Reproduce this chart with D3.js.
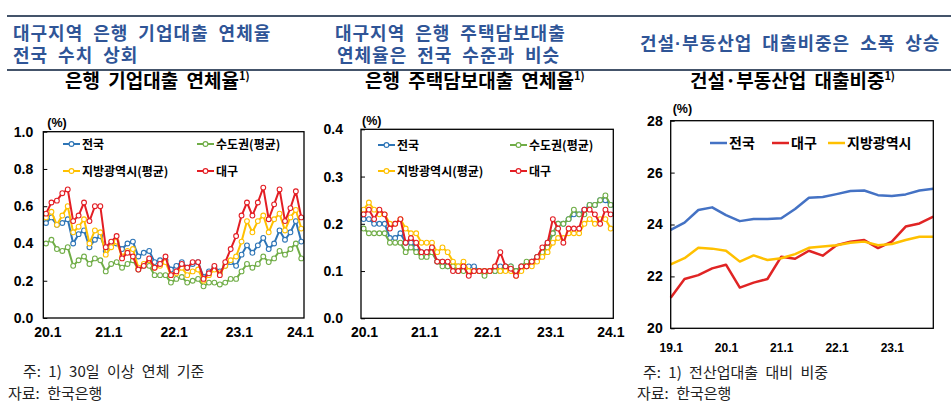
<!DOCTYPE html>
<html>
<head>
<meta charset="utf-8">
<script src="https://cdn.jsdelivr.net/npm/d3@7"></script>
<style>
body { margin: 0; background: #fff; }
</style>
</head>
<body>
<svg id="chart" width="951" height="414"></svg>
<script>
// 은행 기업대출 연체율 (월별, 20.1 ~ 23.12)
var corpLabels = ["20.1", "21.1", "22.1", "23.1", "24.1"];
var corpNation = [0.51, 0.54, 0.50, 0.51, 0.53, 0.40, 0.45, 0.47, 0.38, 0.42, 0.44, 0.36,
                  0.39, 0.40, 0.37, 0.40, 0.41, 0.33, 0.35, 0.36, 0.30, 0.31, 0.31, 0.26,
                  0.28, 0.30, 0.27, 0.29, 0.30, 0.22, 0.25, 0.27, 0.25, 0.28, 0.30, 0.28,
                  0.34, 0.39, 0.35, 0.39, 0.43, 0.37, 0.40, 0.47, 0.42, 0.46, 0.52, 0.41];
var corpCapital = [0.40, 0.42, 0.37, 0.36, 0.38, 0.28, 0.31, 0.33, 0.29, 0.32, 0.31, 0.25,
                   0.29, 0.30, 0.27, 0.29, 0.31, 0.26, 0.28, 0.28, 0.23, 0.23, 0.23, 0.19,
                   0.21, 0.22, 0.19, 0.20, 0.21, 0.17, 0.19, 0.19, 0.18, 0.19, 0.21, 0.21,
                   0.25, 0.29, 0.27, 0.29, 0.33, 0.30, 0.32, 0.36, 0.34, 0.37, 0.40, 0.32];
var corpMetro = [0.54, 0.57, 0.50, 0.55, 0.60, 0.46, 0.49, 0.53, 0.40, 0.47, 0.46, 0.34,
                 0.38, 0.41, 0.33, 0.36, 0.37, 0.27, 0.29, 0.31, 0.27, 0.28, 0.30, 0.23,
                 0.24, 0.27, 0.23, 0.25, 0.26, 0.20, 0.23, 0.26, 0.24, 0.28, 0.31, 0.33,
                 0.41, 0.52, 0.46, 0.52, 0.55, 0.46, 0.53, 0.56, 0.47, 0.54, 0.58, 0.48];
var corpDaegu = [0.56, 0.62, 0.63, 0.67, 0.69, 0.52, 0.55, 0.62, 0.52, 0.60, 0.60, 0.38,
                 0.41, 0.44, 0.32, 0.35, 0.33, 0.26, 0.28, 0.32, 0.27, 0.29, 0.33, 0.23,
                 0.25, 0.29, 0.27, 0.30, 0.30, 0.21, 0.24, 0.28, 0.23, 0.30, 0.37, 0.44,
                 0.55, 0.62, 0.55, 0.62, 0.70, 0.53, 0.61, 0.69, 0.52, 0.59, 0.68, 0.54];

// 은행 주택담보대출 연체율 (월별)
var mortLabels = ["20.1", "21.1", "22.1", "23.1", "24.1"];
var mortNation = [0.21, 0.21, 0.20, 0.20, 0.20, 0.17, 0.17, 0.18, 0.16, 0.16, 0.15, 0.14,
                  0.14, 0.14, 0.12, 0.12, 0.11, 0.11, 0.11, 0.11, 0.11, 0.11, 0.10, 0.10,
                  0.10, 0.10, 0.11, 0.11, 0.11, 0.10, 0.11, 0.11, 0.12, 0.13, 0.14, 0.16,
                  0.18, 0.20, 0.20, 0.21, 0.22, 0.22, 0.23, 0.24, 0.24, 0.25, 0.25, 0.24];
var mortCapital = [0.19, 0.18, 0.18, 0.18, 0.18, 0.16, 0.16, 0.16, 0.14, 0.15, 0.14, 0.13,
                   0.13, 0.14, 0.12, 0.11, 0.11, 0.11, 0.10, 0.10, 0.10, 0.10, 0.10, 0.09,
                   0.10, 0.10, 0.10, 0.11, 0.11, 0.10, 0.11, 0.12, 0.12, 0.13, 0.14, 0.15,
                   0.18, 0.20, 0.20, 0.21, 0.23, 0.22, 0.22, 0.24, 0.24, 0.25, 0.26, 0.24];
var mortMetro = [0.23, 0.245, 0.23, 0.22, 0.22, 0.20, 0.20, 0.21, 0.19, 0.18, 0.18, 0.16,
                 0.16, 0.16, 0.14, 0.15, 0.14, 0.12, 0.11, 0.12, 0.10, 0.10, 0.10, 0.10,
                 0.10, 0.11, 0.10, 0.10, 0.10, 0.09, 0.10, 0.11, 0.11, 0.12, 0.13, 0.14,
                 0.16, 0.17, 0.17, 0.18, 0.18, 0.18, 0.20, 0.21, 0.20, 0.21, 0.21, 0.19];
var mortDaegu = [0.22, 0.23, 0.21, 0.23, 0.22, 0.19, 0.20, 0.21, 0.16, 0.17, 0.16, 0.14,
                 0.14, 0.15, 0.12, 0.12, 0.12, 0.10, 0.10, 0.11, 0.09, 0.10, 0.10, 0.10,
                 0.10, 0.11, 0.14, 0.11, 0.105, 0.09, 0.11, 0.11, 0.12, 0.13, 0.15, 0.16,
                 0.21, 0.19, 0.16, 0.19, 0.19, 0.19, 0.23, 0.23, 0.22, 0.20, 0.23, 0.22];

// 건설·부동산업 대출비중 (분기별, 19.1 ~ 23.4)
var shareLabels = ["19.1", "20.1", "21.1", "22.1", "23.1"];
var shareNation = [23.79, 24.07, 24.56, 24.66, 24.36, 24.13, 24.21, 24.21, 24.24, 24.60,
                   25.03, 25.06, 25.17, 25.29, 25.31, 25.13, 25.10, 25.16, 25.31, 25.38];
var shareDaegu = [21.18, 21.90, 22.05, 22.31, 22.45, 21.57, 21.76, 21.90, 22.76, 22.68,
                  22.99, 22.80, 23.20, 23.34, 23.40, 23.09, 23.34, 23.92, 24.04, 24.30];
var shareMetro = [22.46, 22.70, 23.10, 23.07, 22.99, 22.57, 22.81, 22.63, 22.70, 22.86,
                  23.10, 23.15, 23.20, 23.30, 23.34, 23.20, 23.25, 23.40, 23.53, 23.53];

var FONT = '"Liberation Sans", "Noto Sans CJK KR", sans-serif';
var KFONT = '"Noto Sans CJK KR", "Liberation Sans", sans-serif';
var svg = d3.select("#chart");

// 상단 헤더 구분선
[16, 70].forEach(function (yy) {
    svg.append("line")
        .attr("x1", 7).attr("x2", 951)
        .attr("y1", yy).attr("y2", yy)
        .attr("stroke", "#44546A").attr("stroke-width", 2);
});

function addText(x, y, str, size, weight, color, font) {
    return svg.append("text")
        .attr("x", x).attr("y", y)
        .attr("font-family", font || KFONT)
        .attr("font-size", size)
        .attr("font-weight", weight)
        .attr("fill", color)
        .text(str);
}

// 헤더 (파란 글씨) - 줄간격이 좁아 라틴 폰트 메트릭 사용
var HEAD = "#2F5597";
function addHead(x, y, str) {
    return addText(x, y, str, 18, "bold", HEAD, FONT)
        .attr("letter-spacing", 1).attr("word-spacing", 4);
}
addHead(13, 40, "대구지역 은행 기업대출 연체율");
addHead(13, 62, "전국 수치 상회");
addHead(335, 40, "대구지역 은행 주택담보대출");
addHead(337, 62, "연체율은 전국 수준과 비슷");
addHead(640, 50, "건설·부동산업 대출비중은 소폭 상승");

// 차트 제목
function addTitle(x, str) {
    var t = addText(x, 88, str, 19, "bold", "#000").attr("word-spacing", 4);
    t.append("tspan").attr("dy", -8).attr("font-size", 11).text("1)");
}
addTitle(65, "은행 기업대출 연체율");
addTitle(365, "은행 주택담보대출 연체율");
addTitle(690, "건설·부동산업 대출비중");

// 주석
addText(23, 377, "주: 1) 30일 이상 연체 기준", 15, "normal", "#222").attr("word-spacing", 4);
addText(8, 399, "자료: 한국은행", 15, "normal", "#222").attr("word-spacing", 4);
addText(643, 378, "주: 1) 전산업대출 대비 비중", 15, "normal", "#222").attr("word-spacing", 4);
addText(637, 399, "자료: 한국은행", 15, "normal", "#222").attr("word-spacing", 4);

function drawPanel(p) {
    var x = d3.scaleLinear().domain([0, p.nSlots]).range([p.left, p.right]);
    var y = d3.scaleLinear().domain(p.yDomain).range([p.bottom, p.top]);
    var g = svg.append("g");

    // y축
    g.append("g")
        .attr("transform", "translate(" + p.left + ",0)")
        .attr("font-family", FONT)
        .call(d3.axisLeft(y).tickValues(p.yTicks).tickFormat(d3.format(p.yFmt))
            .tickSize(-4).tickPadding(p.yPad))
        .call(function (a) { a.select(".domain").remove(); })
        .call(function (a) {
            a.selectAll("text").attr("font-size", p.yFont).attr("font-weight", "bold").attr("fill", "#000");
            a.selectAll("line").attr("stroke", "#000");
        });

    // x축 라벨
    g.append("g")
        .attr("transform", "translate(0," + p.bottom + ")")
        .attr("font-family", FONT)
        .call(d3.axisBottom(x).tickValues(p.xTickIdx)
            .tickFormat(function (d, i) { return p.xLabels[i]; })
            .tickSize(0).tickPadding(p.xPad))
        .call(function (a) { a.select(".domain").remove(); })
        .call(function (a) {
            a.selectAll("text").attr("font-size", p.xFont).attr("font-weight", "bold").attr("fill", "#000")
                .attr("dx", function (d) { return d === 0 ? p.edgeNudge : (d === p.nSlots ? -p.edgeNudge : 0); });
        });

    // 단위
    g.append("text")
        .attr("x", p.left + p.unitDx).attr("y", p.unitY)
        .attr("font-family", FONT).attr("font-size", 12.5).attr("font-weight", "bold")
        .text("(%)");

    // 시계열
    p.series.forEach(function (s) {
        var line = d3.line()
            .x(function (d, i) { return x(i + p.offset); })
            .y(function (d) { return y(d); });
        g.append("path")
            .datum(s.values)
            .attr("d", line)
            .attr("fill", "none")
            .attr("stroke", s.color)
            .attr("stroke-width", p.lineWidth)
            .attr("stroke-linejoin", "round");
        if (p.markers) {
            g.selectAll(null)
                .data(s.values)
                .enter()
                .append("circle")
                .attr("cx", function (d, i) { return x(i + p.offset); })
                .attr("cy", function (d) { return y(d); })
                .attr("r", 2.4)
                .attr("fill", "#fff")
                .attr("stroke", s.color)
                .attr("stroke-width", 1.1);
        }
    });

    // 테두리
    g.append("rect")
        .attr("x", p.left).attr("y", p.top)
        .attr("width", p.right - p.left).attr("height", p.bottom - p.top)
        .attr("fill", "none").attr("stroke", "#000").attr("stroke-width", 1.3);

    // 범례
    p.series.forEach(function (s, i) {
        var pos = p.legendPos[i];
        var lg = g.append("g");
        lg.append("line")
            .attr("x1", pos[0]).attr("x2", pos[0] + 17)
            .attr("y1", pos[1]).attr("y2", pos[1])
            .attr("stroke", s.color).attr("stroke-width", p.lineWidth);
        if (p.markers) {
            lg.append("circle")
                .attr("cx", pos[0] + 8.5).attr("cy", pos[1]).attr("r", 2.4)
                .attr("fill", "#fff").attr("stroke", s.color).attr("stroke-width", 1.1);
        }
        lg.append("text")
            .attr("x", pos[0] + 19).attr("y", pos[1] + p.legendFont * 0.38)
            .attr("font-family", KFONT).attr("font-size", p.legendFont).attr("font-weight", "bold")
            .text(s.name);
    });
}

var BLUE = "#2E75B6", GREEN = "#70AD47", YELLOW = "#FFC000", RED = "#E31E24";

drawPanel({
    left: 43.3, right: 304, top: 131.7, bottom: 318,
    nSlots: 48, offset: 0.5,
    yDomain: [0, 1], yTicks: [0, 0.2, 0.4, 0.6, 0.8, 1.0], yFmt: ".1f", yPad: 10, yFont: 14,
    xTickIdx: [0, 12, 24, 36, 48], xLabels: corpLabels, xPad: 9, xFont: 14, edgeNudge: 4,
    unitDx: 4, unitY: 127,
    lineWidth: 2, markers: true, legendFont: 12,
    legendPos: [[63, 144], [197, 144], [63, 171], [197, 171]],
    series: [
        { name: "전국", values: corpNation, color: BLUE },
        { name: "수도권(평균)", values: corpCapital, color: GREEN },
        { name: "지방광역시(평균)", values: corpMetro, color: YELLOW },
        { name: "대구", values: corpDaegu, color: RED }
    ]
});

drawPanel({
    left: 361, right: 613.3, top: 129.3, bottom: 318.3,
    nSlots: 48, offset: 0.5,
    yDomain: [0, 0.4], yTicks: [0, 0.1, 0.2, 0.3, 0.4], yFmt: ".1f", yPad: 18, yFont: 14,
    xTickIdx: [0, 12, 24, 36, 48], xLabels: mortLabels, xPad: 9, xFont: 14, edgeNudge: 3,
    unitDx: 1, unitY: 124.5,
    lineWidth: 2, markers: true, legendFont: 12,
    legendPos: [[378, 145], [510, 145], [378, 171], [510, 171]],
    series: [
        { name: "전국", values: mortNation, color: BLUE },
        { name: "수도권(평균)", values: mortCapital, color: GREEN },
        { name: "지방광역시(평균)", values: mortMetro, color: YELLOW },
        { name: "대구", values: mortDaegu, color: RED }
    ]
});

drawPanel({
    left: 670.7, right: 933.3, top: 120.7, bottom: 328.3,
    nSlots: 19, offset: 0,
    yDomain: [20, 28], yTicks: [20, 22, 24, 26, 28], yFmt: "d", yPad: 8, yFont: 14,
    xTickIdx: [0, 4, 8, 12, 16], xLabels: shareLabels, xPad: 15, xFont: 12, edgeNudge: 0,
    unitDx: 2, unitY: 113,
    lineWidth: 2.5, markers: false, legendFont: 14,
    legendPos: [[710, 143], [772, 143], [828, 143]],
    series: [
        { name: "전국", values: shareNation, color: "#4472C4" },
        { name: "대구", values: shareDaegu, color: "#E02424" },
        { name: "지방광역시", values: shareMetro, color: YELLOW }
    ]
});
</script>
</body>
</html>
